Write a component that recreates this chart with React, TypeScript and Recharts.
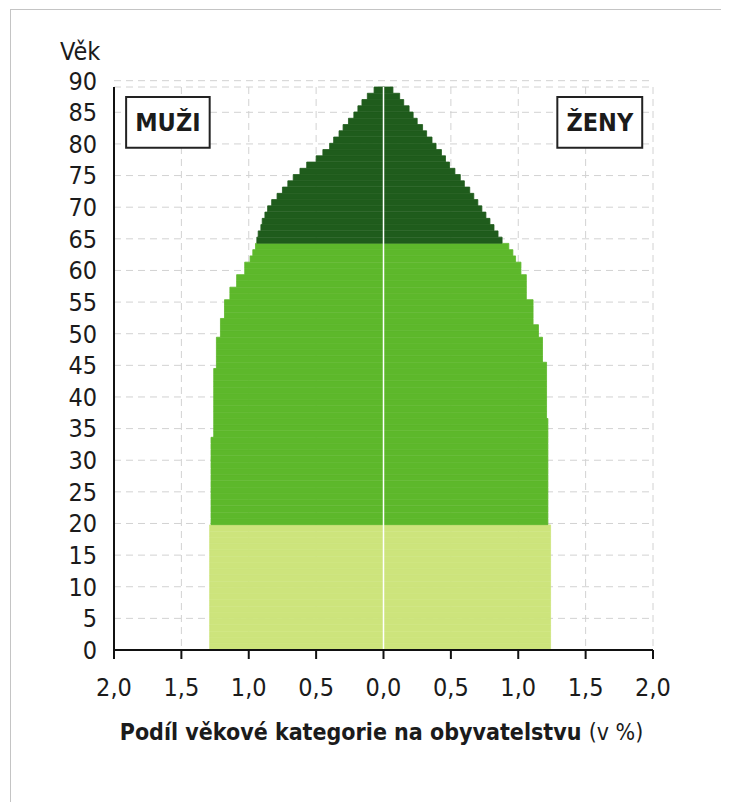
import React from "react";
import {
  Bar,
  BarChart,
  CartesianGrid,
  Cell,
  Label,
  ReferenceArea,
  ReferenceLine,
  XAxis,
  YAxis,
} from "recharts";

// one category per year of age, 0 at the bottom
const ages = Array.from({ length: 90 }, (_, i) => i);

// share of the population (%) per single year of age
const maleShare = [
  1.29, 1.29, 1.29, 1.29, 1.29, 1.29, 1.29, 1.29, 1.29, 1.29,
  1.29, 1.29, 1.29, 1.29, 1.29, 1.29, 1.29, 1.29, 1.29, 1.29,
  1.28, 1.28, 1.28, 1.28, 1.28, 1.28, 1.28, 1.28, 1.28, 1.28,
  1.28, 1.28, 1.28, 1.28, 1.26, 1.26, 1.26, 1.26, 1.26, 1.26,
  1.26, 1.26, 1.26, 1.26, 1.26, 1.24, 1.24, 1.24, 1.24, 1.24,
  1.21, 1.21, 1.21, 1.18, 1.18, 1.18, 1.14, 1.14, 1.09, 1.09,
  1.03, 1.03, 0.99, 0.97, 0.95, 0.94, 0.93, 0.91, 0.9, 0.88,
  0.86, 0.83, 0.79, 0.75, 0.71, 0.67, 0.62, 0.57, 0.5, 0.45,
  0.4, 0.37, 0.33, 0.3, 0.26, 0.22, 0.19, 0.16, 0.12, 0.07,
];

const femaleShare = [
  1.24, 1.24, 1.24, 1.24, 1.24, 1.24, 1.24, 1.24, 1.24, 1.24,
  1.24, 1.24, 1.24, 1.24, 1.24, 1.24, 1.24, 1.24, 1.24, 1.24,
  1.22, 1.22, 1.22, 1.22, 1.22, 1.22, 1.22, 1.22, 1.22, 1.22,
  1.22, 1.22, 1.22, 1.22, 1.22, 1.22, 1.22, 1.21, 1.21, 1.21,
  1.21, 1.21, 1.21, 1.21, 1.21, 1.21, 1.18, 1.18, 1.18, 1.18,
  1.15, 1.15, 1.11, 1.11, 1.11, 1.11, 1.06, 1.06, 1.06, 1.06,
  1.02, 1.02, 0.98, 0.96, 0.93, 0.88, 0.85, 0.82, 0.79, 0.76,
  0.73, 0.7, 0.67, 0.64, 0.6, 0.57, 0.53, 0.49, 0.46, 0.43,
  0.39, 0.36, 0.32, 0.29, 0.25, 0.22, 0.19, 0.15, 0.12, 0.07,
];

// age bands: 0-19, 20-64, 65+
const bandStarts = [0, 20, 65];

const xTicks = [-2, -1.5, -1, -0.5, 0, 0.5, 1, 1.5, 2];
const yTicks = [0, 5, 10, 15, 20, 25, 30, 35, 40, 45, 50, 55, 60, 65, 70, 75, 80, 85, 90];

const bandColors = ["#cde47c", "#5db82b", "#1f5c1c"];
const FONT = "'DejaVu Sans Condensed', 'DejaVu Sans', sans-serif";
const INK = "#1b1b1b";

const rows = ages.map((age, i) => ({
  age,
  male: -maleShare[i],
  female: femaleShare[i],
}));

function colorFor(age: number) {
  let idx = 0;
  bandStarts.forEach((start, i) => {
    if (age >= start) idx = i;
  });
  return bandColors[idx];
}

const fmt = (v: number) => Math.abs(v).toFixed(1).replace(".", ",");

function XTitle(props: any) {
  const vb = props.viewBox || {};
  return (
    <text
      x={vb.x + vb.width / 2 - 2}
      y={vb.y + vb.height + 30}
      textAnchor="middle"
      fontFamily={FONT}
      fontSize={23}
      fill={INK}
    >
      <tspan fontWeight="bold">Podíl věkové kategorie na obyvatelstvu </tspan>
      <tspan>(v %)</tspan>
    </text>
  );
}

function YTitle(props: any) {
  const vb = props.viewBox || {};
  return (
    <text x={vb.x + 6} y={vb.y - 27} fontFamily={FONT} fontSize={25} fill={INK}>
      Věk
    </text>
  );
}

export default function App() {
  return (
    <div
      style={{
        margin: "1px 0 0 2px",
        width: 719,
        height: 792,
        borderTop: "1px solid #c4c4c4",
        borderLeft: "1px solid #c4c4c4",
        background: "#fff",
      }}
    >
      <BarChart
        width={700}
        height={780}
        data={rows}
        layout="vertical"
        stackOffset="sign"
        barCategoryGap={0}
        margin={{ top: 77, right: 58, bottom: 80, left: 43 }}
      >
        <CartesianGrid yAxisId="num" stroke="#d2d2d2" strokeDasharray="7 5" />
        <XAxis
          type="number"
          domain={[-2, 2]}
          ticks={xTicks}
          interval={0}
          tickFormatter={fmt}
          height={60}
          axisLine={{ stroke: "#111", strokeWidth: 2 }}
          tickLine={{ stroke: "#111", strokeWidth: 2 }}
          tickSize={9}
          tickMargin={19}
          tick={{ fill: INK, fontSize: 25, fontFamily: FONT }}
        >
          <Label content={<XTitle />} />
        </XAxis>
        <XAxis
          xAxisId="top"
          orientation="top"
          type="number"
          domain={[-2, 2]}
          height={0}
          tick={false}
          tickLine={false}
          axisLine={{ stroke: "#111", strokeWidth: 2 }}
        />
        <YAxis type="category" dataKey="age" reversed hide width={0} />
        <YAxis
          yAxisId="num"
          type="number"
          domain={[0, 90]}
          reversed
          ticks={yTicks}
          interval={0}
          width={60}
          tickLine={false}
          tickSize={0}
          tickMargin={17}
          axisLine={{ stroke: "#111", strokeWidth: 2 }}
          tick={{ fill: INK, fontSize: 25, fontFamily: FONT }}
        >
          <Label content={<YTitle />} />
        </YAxis>
        <YAxis
          yAxisId="right"
          orientation="right"
          type="number"
          domain={[0, 90]}
          width={0}
          tick={false}
          tickLine={false}
          axisLine={{ stroke: "#111", strokeWidth: 2 }}
        />
        <Bar dataKey="male" stackId="p" isAnimationActive={false}>
          {rows.map((r) => (
            <Cell key={`m${r.age}`} fill={colorFor(r.age)} stroke={colorFor(r.age)} strokeWidth={0.8} />
          ))}
        </Bar>
        <Bar dataKey="female" stackId="p" isAnimationActive={false}>
          {rows.map((r) => (
            <Cell key={`f${r.age}`} fill={colorFor(r.age)} stroke={colorFor(r.age)} strokeWidth={0.8} />
          ))}
        </Bar>
        <ReferenceLine x={0} stroke="#ffffff" strokeWidth={1.5} />
        <ReferenceArea
          yAxisId="num"
          x1={-1.91}
          x2={-1.29}
          y1={79.4}
          y2={87.4}
          fill="#fff"
          fillOpacity={1}
          stroke="#222"
          strokeWidth={2}
          label={{ value: "MUŽI", position: "center", fill: INK, fontSize: 25, fontWeight: "bold", fontFamily: FONT }}
        />
        <ReferenceArea
          yAxisId="num"
          x1={1.29}
          x2={1.92}
          y1={79.4}
          y2={87.4}
          fill="#fff"
          fillOpacity={1}
          stroke="#222"
          strokeWidth={2}
          label={{ value: "ŽENY", position: "center", fill: INK, fontSize: 25, fontWeight: "bold", fontFamily: FONT }}
        />
      </BarChart>
    </div>
  );
}
